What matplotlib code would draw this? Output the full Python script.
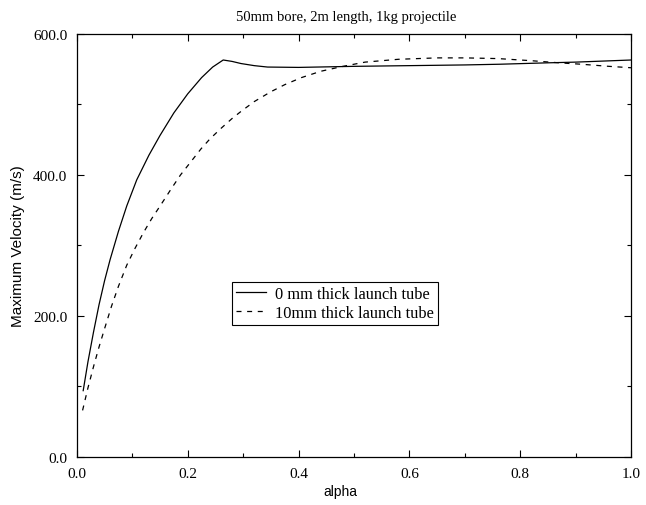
import matplotlib
matplotlib.use("Agg")
import matplotlib.pyplot as plt
from matplotlib.ticker import MultipleLocator, FormatStrFormatter

# solid: 0 mm launch tube
alpha_0mm = [0.0114, 0.02, 0.03, 0.04, 0.05, 0.06, 0.075, 0.09, 0.108, 0.13,
             0.15, 0.175, 0.2, 0.225, 0.245, 0.264, 0.28, 0.296, 0.32, 0.344,
             0.40, 0.5, 0.6, 0.7, 0.763, 0.85, 0.9, 1.0]
vel_0mm = [94, 135, 177, 216, 250, 280, 320, 356, 393, 428,
           456, 488, 515, 538, 553, 563, 561, 558, 555, 553,
           552.5, 554, 555, 556, 557, 559, 560, 563]

# dashed: 10 mm launch tube
alpha_10mm = [0.0103, 0.02, 0.03, 0.04, 0.05, 0.0626, 0.075, 0.09, 0.105, 0.12,
              0.135, 0.151, 0.17, 0.187, 0.205, 0.224, 0.24, 0.26, 0.28, 0.296,
              0.32, 0.35, 0.375, 0.405, 0.44, 0.48, 0.52, 0.58, 0.65, 0.70,
              0.76, 0.82, 0.87, 0.91, 0.96, 1.0]
vel_10mm = [66, 98, 128, 156, 182, 214, 242, 272, 296, 318,
            338, 357, 380, 400, 418, 437, 451, 466, 480, 490,
            504, 518, 528, 538, 547, 554, 560, 564, 566, 566,
            565, 562, 559, 557, 554, 552]

labels = ["0 mm thick launch tube", "10mm thick launch tube"]

serif = "Liberation Serif"
sans = "Liberation Sans"

fig = plt.figure(figsize=(6.46, 5.06), dpi=100)
ax = fig.add_axes([0.119, 0.095, 0.858, 0.836])

ax.plot(alpha_0mm, vel_0mm, color="black", lw=0.9, label=labels[0])
ax.plot(alpha_10mm, vel_10mm, color="black", lw=0.9, ls=(0, (4, 4.5)), label=labels[1])

ax.set_xlim(0, 1.0)
ax.set_ylim(0, 600)
ax.xaxis.set_major_locator(MultipleLocator(0.2))
ax.xaxis.set_minor_locator(MultipleLocator(0.1))
ax.yaxis.set_major_locator(MultipleLocator(200))
ax.yaxis.set_minor_locator(MultipleLocator(100))
ax.xaxis.set_major_formatter(FormatStrFormatter("%.1f"))
ax.yaxis.set_major_formatter(FormatStrFormatter("%.1f"))
ax.tick_params(which="both", direction="in", top=True, right=True, width=0.8)
ax.tick_params(which="major", length=5, labelsize=11, pad=7)
ax.tick_params(which="minor", length=3)
for lab in ax.get_xticklabels() + ax.get_yticklabels():
    lab.set_family(serif)
for s in ax.spines.values():
    s.set_linewidth(0.9)

ax.set_title("50mm bore, 2m length, 1kg projectile", family=serif, fontsize=10.5,
             pad=10, x=0.485)
ax.set_xlabel("alpha", family=sans, fontsize=10, labelpad=3, x=0.475)
ax.set_ylabel("Maximum Velocity (m/s)", family=sans, fontsize=11, labelpad=6)

leg = ax.legend(loc="upper left", bbox_to_anchor=(0.28, 0.414), borderaxespad=0,
                prop={"family": serif, "size": 11.8}, handlelength=1.8,
                fancybox=False, edgecolor="black", framealpha=1,
                borderpad=0.25, labelspacing=0.2, handletextpad=0.6)
leg.get_frame().set_linewidth(0.8)

fig.savefig("out.png", dpi=100)
